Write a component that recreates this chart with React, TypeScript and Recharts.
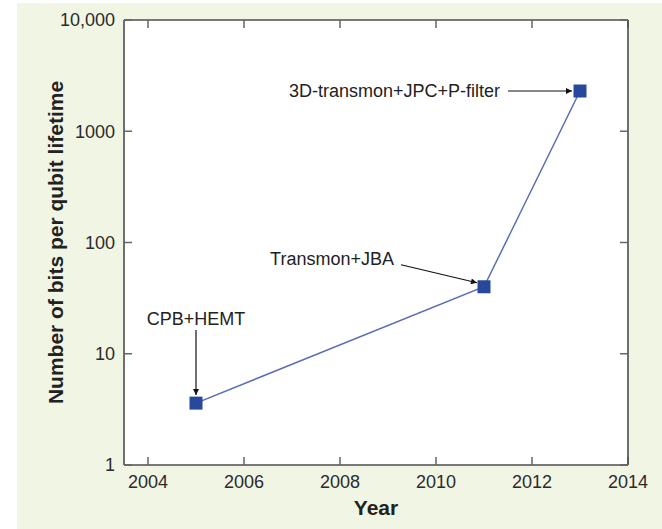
import { LineChart, Line, XAxis, YAxis } from 'recharts';

const years = [2005, 2011, 2013];
const bitsPerLifetime = [3.6, 40, 2300];
const readoutNames = ['CPB+HEMT', 'Transmon+JBA', '3D-transmon+JPC+P-filter'];
const yearTicks = [2004, 2006, 2008, 2010, 2012, 2014];
const bitTicks = [1, 10, 100, 1000, 10000];

const data = years.map((year, i) => ({ year, bits: bitsPerLifetime[i], name: readoutNames[i] }));

// where each callout text and arrow sits, in px relative to its point
const callouts = [
  { tx: 0, ty: -78, anchor: 'middle', from: [0, -73], to: [0, -8] },
  { tx: -90, ty: -22, anchor: 'end', from: [-83, -22], to: [-7, -4] },
  { tx: -80, ty: 6, anchor: 'end', from: [-72, 0], to: [-8, 0] },
];

const FONT = '"Liberation Sans", Arial, sans-serif';
const FRAME = '#4d4d4d';
const TICK_TEXT = { fontSize: 18, fill: '#2b2b2b' };

const formatBits = (v: number) => (v >= 10000 ? v.toLocaleString('en-US') : String(v));

const renderPoint = (props: any) => {
  const { cx, cy, index } = props;
  const c = callouts[index];
  return (
    <g key={`pt-${index}`}>
      <line
        x1={cx + c.from[0]}
        y1={cy + c.from[1]}
        x2={cx + c.to[0]}
        y2={cy + c.to[1]}
        stroke="#111"
        strokeWidth={1.2}
        markerEnd="url(#arrowHead)"
      />
      <text x={cx + c.tx} y={cy + c.ty} textAnchor={c.anchor as any} fontSize={18} fill="#222">
        {data[index].name}
      </text>
      <rect x={cx - 6.5} y={cy - 6.5} width={13} height={13} fill="#28489b" />
    </g>
  );
};

export default function App() {
  return (
    <div style={{ position: 'absolute', left: 0, top: 0, width: 662, height: 529, background: '#fff', fontFamily: FONT }}>
      <div style={{ position: 'absolute', left: 17, top: 3, width: 645, height: 526, background: '#f1f5e3' }} />
      <div style={{ position: 'absolute', left: 0, top: 0 }}>
        <LineChart width={662} height={529} data={data} margin={{ top: 10, right: 0, bottom: 0, left: 40 }}>
          <defs>
            <marker
              id="arrowHead"
              viewBox="0 0 10 10"
              refX="10"
              refY="5"
              markerWidth="9"
              markerHeight="6"
              markerUnits="userSpaceOnUse"
              orient="auto"
            >
              <path d="M0,0 L10,5 L0,10 z" fill="#111" />
            </marker>
          </defs>
          <rect x={124} y={20} width={504} height={445} fill="#fff" />

          <XAxis
            xAxisId="b"
            dataKey="year"
            type="number"
            domain={[2003.5, 2014]}
            ticks={yearTicks}
            height={64}
            tickSize={-8}
            tickMargin={18}
            stroke={FRAME}
            strokeWidth={1.6}
            tick={TICK_TEXT}
            tickLine={{ stroke: '#666', strokeWidth: 1.5 }}
            label={{
              value: 'Year',
              position: 'insideBottom',
              offset: 14,
              fontSize: 21,
              fontWeight: 'bold',
              fill: '#222',
            }}
          />
          <XAxis
            xAxisId="t"
            dataKey="year"
            type="number"
            orientation="top"
            domain={[2003.5, 2014]}
            ticks={yearTicks}
            height={10}
            tickSize={-8}
            tickFormatter={() => ''}
            stroke={FRAME}
            strokeWidth={1.6}
            tickLine={{ stroke: '#666', strokeWidth: 1.5 }}
          />
          <YAxis
            yAxisId="l"
            scale="log"
            domain={[1, 10000]}
            ticks={bitTicks}
            width={84}
            tickSize={-8}
            tickMargin={17}
            tickFormatter={formatBits}
            stroke={FRAME}
            strokeWidth={1.6}
            tick={TICK_TEXT}
            tickLine={{ stroke: '#666', strokeWidth: 1.5 }}
            label={{
              value: 'Number of bits per qubit lifetime',
              angle: -90,
              position: 'insideLeft',
              offset: 16,
              fontSize: 21,
              fontWeight: 'bold',
              fill: '#222',
              style: { textAnchor: 'middle' },
            }}
          />
          <YAxis
            yAxisId="r"
            orientation="right"
            scale="log"
            domain={[1, 10000]}
            ticks={bitTicks}
            width={34}
            tickSize={-8}
            tickFormatter={() => ''}
            stroke={FRAME}
            strokeWidth={1.6}
            tickLine={{ stroke: '#666', strokeWidth: 1.5 }}
          />
          <Line
            xAxisId="t"
            yAxisId="r"
            dataKey="bits"
            stroke="none"
            dot={false}
            activeDot={false}
            isAnimationActive={false}
          />
          <Line
            xAxisId="b"
            yAxisId="l"
            dataKey="bits"
            type="linear"
            stroke="#5b6db5"
            strokeWidth={1.5}
            dot={renderPoint}
            activeDot={false}
            isAnimationActive={false}
          />
        </LineChart>
      </div>
    </div>
  );
}
